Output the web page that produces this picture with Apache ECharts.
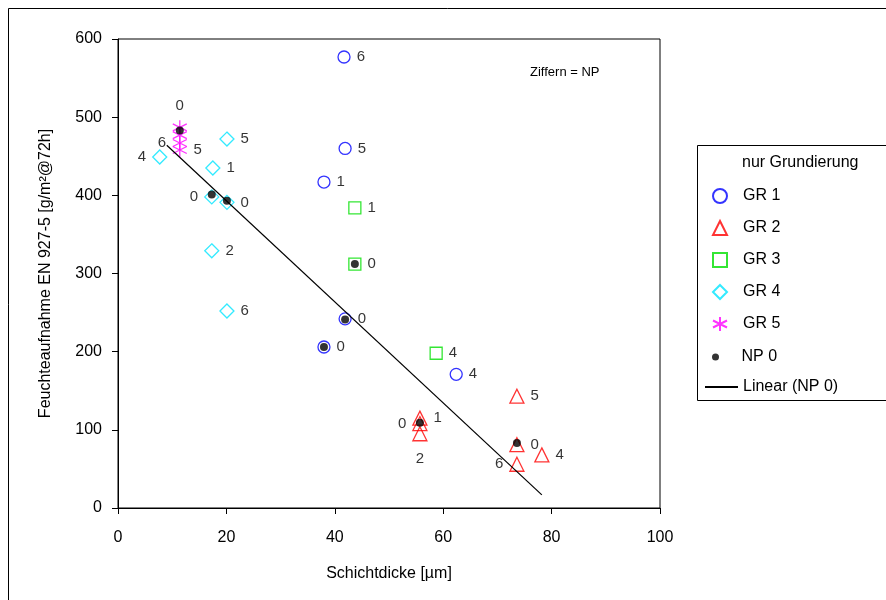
<!DOCTYPE html>
<html>
<head>
<meta charset="utf-8">
<script src="https://cdn.jsdelivr.net/npm/echarts@6/dist/echarts.min.js"></script>
<style>
  html, body { margin: 0; padding: 0; background: #fff; }
  #main { width: 886px; height: 600px; }
</style>
</head>
<body>
<div id="main"></div>
<script>
// values (x = Schichtdicke, y = Feuchteaufnahme, label = NP)
var gr1X = [41.7, 41.9, 38.0, 41.9, 38.0, 62.4];
var gr1Y = [577, 460, 417, 242, 206, 171];
var gr1Lab = ['6', '5', '1', '0', '0', '4'];
var gr1Pos = ['right', 'right', 'right', 'right', 'right', 'right'];

var gr2X = [73.6, 55.7, 55.7, 55.7, 73.6, 73.6, 78.2];
var gr2Y = [143, 115, 108, 95, 81, 56, 68];
var gr2Lab = ['5', '1', '0', '2', '0', '6', '4'];
var gr2Pos = ['right', 'right', 'left', 'bottom', 'right', 'left', 'right'];

var gr3X = [43.7, 43.7, 58.7];
var gr3Y = [384, 312, 198];
var gr3Lab = ['1', '0', '4'];
var gr3Pos = ['right', 'right', 'right'];

var gr4X = [20.1, 17.5, 7.7, 17.3, 20.1, 17.3, 20.1];
var gr4Y = [472, 435, 449, 398, 391, 329, 252];
var gr4Lab = ['5', '1', '4', '0', '0', '2', '6'];
var gr4Pos = ['right', 'right', 'left', 'left', 'right', 'right', 'right'];

var gr5X = [11.4, 11.4, 11.4, 11.4];
var gr5Y = [487, 477, 467, 458];
var gr5Lab = ['0', '', '6', '5'];
var gr5Pos = ['top', 'right', 'left', 'right'];

var np0X = [11.4, 17.3, 20.1, 41.9, 38.0, 43.7, 55.7, 73.6];
var np0Y = [483, 401, 393, 241, 206, 312, 109, 83];

var trendX = [9, 78.2];

var xTicks = { min: 0, max: 100, interval: 20 };
var yTicks = { min: 0, max: 600, interval: 100 };

var FONT = '"Liberation Sans", Arial, sans-serif';

function pts(xs, ys, labs, pos) {
    var out = [];
    for (var i = 0; i < xs.length; i++) {
        out.push({
            value: [xs[i], ys[i]],
            label: { show: labs[i] !== '', formatter: labs[i], position: pos[i],
                     distance: pos[i] === 'bottom' ? 10 : 6 }
        });
    }
    return out;
}

// least squares line through NP 0 points
function trend() {
    var n = np0X.length, sx = 0, sy = 0, sxx = 0, sxy = 0;
    for (var i = 0; i < n; i++) {
        sx += np0X[i]; sy += np0Y[i];
        sxx += np0X[i] * np0X[i]; sxy += np0X[i] * np0Y[i];
    }
    var b = (n * sxy - sx * sy) / (n * sxx - sx * sx);
    var a = (sy - b * sx) / n;
    return trendX.map(function (x) { return [x, a + b * x]; });
}

var lbl = { color: '#000', fontSize: 15, fontFamily: FONT };
var legText = { color: '#000', fontSize: 16, fontFamily: FONT };

var myChart = echarts.init(document.getElementById('main'));

var option = {
    backgroundColor: '#fff',
    animation: false,
    textStyle: { fontFamily: FONT },
    grid: {
        left: 118, right: 226, top: 39, bottom: 92,
        show: true, borderColor: '#000', borderWidth: 1
    },
    legend: [
        {
            orient: 'vertical', left: 712, top: 188, padding: 0,
            itemWidth: 14, itemHeight: 14, itemGap: 16,
            textStyle: { color: '#000', fontSize: 16, fontFamily: FONT, padding: [0, 0, 0, 11] },
            data: ['GR 1', 'GR 2', 'GR 3', 'GR 4', 'GR 5']
        },
        {
            orient: 'vertical', left: 712, top: 349, padding: 0,
            itemWidth: 14, itemHeight: 7,
            textStyle: { color: '#000', fontSize: 16, fontFamily: FONT, padding: [0, 0, 0, 14] },
            data: ['NP 0']
        },
        {
            orient: 'vertical', left: 704, top: 379, padding: 0,
            itemWidth: 33, itemHeight: 14,
            textStyle: legText,
            data: [{ name: 'Linear (NP 0)', itemStyle: { color: 'rgba(0,0,0,0)', borderWidth: 0, opacity: 0 } }]
        }
    ],
    xAxis: {
        type: 'value',
        min: xTicks.min, max: xTicks.max, interval: xTicks.interval,
        name: 'Schichtdicke [µm]',
        nameLocation: 'middle',
        nameGap: 58,
        nameTextStyle: { color: '#000', fontSize: 16, fontFamily: FONT },
        axisLine: { lineStyle: { color: '#000', width: 1 } },
        axisTick: { length: 6, lineStyle: { color: '#000' } },
        axisLabel: { color: '#000', fontSize: 16, margin: 22, fontFamily: FONT },
        splitLine: { show: false }
    },
    yAxis: {
        type: 'value',
        min: yTicks.min, max: yTicks.max, interval: yTicks.interval,
        name: 'Feuchteaufnahme EN 927-5 [g/m²@72h]',
        nameLocation: 'middle',
        nameGap: 64,
        nameTextStyle: { color: '#000', fontSize: 16, fontFamily: FONT },
        axisLine: { show: true, lineStyle: { color: '#000', width: 1 } },
        axisTick: { show: true, length: 6, lineStyle: { color: '#000' } },
        axisLabel: { color: '#000', fontSize: 16, margin: 16, fontFamily: FONT },
        splitLine: { show: false }
    },
    graphic: [
        { type: 'rect', shape: { x: 8.5, y: 8.5, width: 900, height: 620 },
          style: { fill: 'none', stroke: '#000', lineWidth: 1 }, silent: true, z: -1 },
        { type: 'rect', shape: { x: 697.5, y: 145.5, width: 220, height: 255 },
          style: { fill: 'none', stroke: '#000', lineWidth: 1 }, silent: true },
        { type: 'text', left: 742, top: 155,
          style: { text: 'nur Grundierung', fill: '#000', fontSize: 16, fontFamily: FONT } },
        { type: 'text', left: 530, top: 66,
          style: { text: 'Ziffern = NP', fill: '#000', fontSize: 13, fontFamily: FONT } }
    ],
    series: [
        {
            name: 'GR 1', type: 'scatter', symbol: 'circle', symbolSize: 12,
            itemStyle: { color: 'rgba(0,0,0,0)', borderColor: '#0000ff', borderWidth: 1.3 },
            label: lbl,
            data: pts(gr1X, gr1Y, gr1Lab, gr1Pos)
        },
        {
            name: 'GR 2', type: 'scatter', symbol: 'triangle', symbolSize: 14,
            itemStyle: { color: 'rgba(0,0,0,0)', borderColor: '#ff0000', borderWidth: 1.3 },
            label: lbl,
            data: pts(gr2X, gr2Y, gr2Lab, gr2Pos)
        },
        {
            name: 'GR 3', type: 'scatter', symbol: 'rect', symbolSize: 12,
            itemStyle: { color: 'rgba(0,0,0,0)', borderColor: '#00e000', borderWidth: 1.3 },
            label: lbl,
            data: pts(gr3X, gr3Y, gr3Lab, gr3Pos)
        },
        {
            name: 'GR 4', type: 'scatter', symbol: 'diamond', symbolSize: 14,
            itemStyle: { color: 'rgba(0,0,0,0)', borderColor: '#00e5ff', borderWidth: 1.3 },
            label: lbl,
            data: pts(gr4X, gr4Y, gr4Lab, gr4Pos)
        },
        {
            name: 'GR 5', type: 'scatter',
            symbol: 'path://M6 0 L6 12 M0 3 L12 9 M0 9 L12 3',
            symbolSize: 14,
            itemStyle: { color: 'rgba(0,0,0,0)', borderColor: '#ff00ff', borderWidth: 1.3 },
            label: lbl,
            data: pts(gr5X, gr5Y, gr5Lab, gr5Pos)
        },
        {
            name: 'NP 0', type: 'scatter', symbol: 'circle', symbolSize: 8,
            itemStyle: { color: '#000' },
            data: np0X.map(function (x, i) { return [x, np0Y[i]]; }),
            z: 5
        },
        {
            name: 'Linear (NP 0)', type: 'line', symbol: 'none',
            lineStyle: { color: '#000', width: 1.2 },
            itemStyle: { color: '#000' },
            data: trend(),
            z: 4
        }
    ]
};

myChart.setOption(option);
</script>
</body>
</html>
